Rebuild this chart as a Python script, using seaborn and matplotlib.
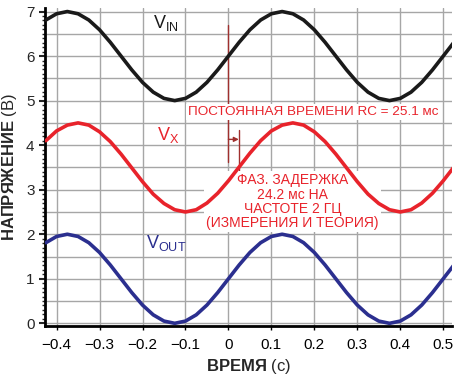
import matplotlib
matplotlib.use('Agg')
import matplotlib.pyplot as plt
import seaborn as sns
from matplotlib.ticker import MultipleLocator

# значения (шаг 25 мс)
t = [-0.425, -0.400, -0.375, -0.350, -0.325, -0.300, -0.275, -0.250, -0.225, -0.200,
     -0.175, -0.150, -0.125, -0.100, -0.075, -0.050, -0.025, 0.000, 0.025, 0.050,
     0.075, 0.100, 0.125, 0.150, 0.175, 0.200, 0.225, 0.250, 0.275, 0.300,
     0.325, 0.350, 0.375, 0.400, 0.425, 0.450, 0.475, 0.500, 0.525]

v_in = [6.81, 6.95, 7.00, 6.95, 6.81, 6.59, 6.31, 6.00, 5.69, 5.41,
        5.19, 5.05, 5.00, 5.05, 5.19, 5.41, 5.69, 6.00, 6.31, 6.59,
        6.81, 6.95, 7.00, 6.95, 6.81, 6.59, 6.31, 6.00, 5.69, 5.41,
        5.19, 5.05, 5.00, 5.05, 5.19, 5.41, 5.69, 6.00, 6.31]

v_x = [4.10, 4.32, 4.45, 4.50, 4.45, 4.30, 4.08, 3.80, 3.49, 3.18,
       2.90, 2.69, 2.55, 2.50, 2.55, 2.70, 2.92, 3.20, 3.51, 3.82,
       4.10, 4.32, 4.45, 4.50, 4.45, 4.30, 4.08, 3.80, 3.49, 3.18,
       2.90, 2.69, 2.55, 2.50, 2.55, 2.70, 2.92, 3.20, 3.51]

v_out = [1.81, 1.95, 2.00, 1.95, 1.81, 1.59, 1.31, 1.00, 0.69, 0.41,
         0.19, 0.05, 0.00, 0.05, 0.19, 0.41, 0.69, 1.00, 1.31, 1.59,
         1.81, 1.95, 2.00, 1.95, 1.81, 1.59, 1.31, 1.00, 0.69, 0.41,
         0.19, 0.05, 0.00, 0.05, 0.19, 0.41, 0.69, 1.00, 1.31]

delay = 0.0242  # фазовая задержка, с

sns.set_style('ticks')
plt.rcParams['font.family'] = ['Liberation Sans', 'DejaVu Sans']
plt.rcParams['mathtext.fontset'] = 'custom'
plt.rcParams['mathtext.rm'] = 'Liberation Sans'
plt.rcParams['mathtext.bf'] = 'Liberation Sans:bold'
plt.rcParams['axes.unicode_minus'] = True

BLACK = '#1a1a1a'
RED = '#e8232b'
BLUE = '#2b2f8f'
DARKRED = '#a0302e'
GRID = '#a6a6a6'

fig = plt.figure(figsize=(4.61, 3.78), dpi=100)
ax = fig.add_axes([0.0976, 0.1376, 0.882, 0.8413])

sns.lineplot(x=t, y=v_in, ax=ax, color=BLACK, linewidth=2.6, zorder=3)
sns.lineplot(x=t, y=v_x, ax=ax, color=RED, linewidth=2.6, zorder=3)
sns.lineplot(x=t, y=v_out, ax=ax, color=BLUE, linewidth=2.6, zorder=3)

ax.set_xlim(-0.427, 0.5195)
ax.set_ylim(-0.06, 7.08)

ax.yaxis.set_major_locator(MultipleLocator(1))
ax.yaxis.set_minor_locator(MultipleLocator(0.1))
ax.set_xticks([-0.4, -0.3, -0.2, -0.1, 0, 0.1, 0.2, 0.3, 0.4, 0.5])
ax.set_xticklabels(['\u22120.4', '\u22120.3', '\u22120.2', '\u22120.1', '0',
                    '0.1', '0.2', '0.3', '0.4', '0.5'])

ax.grid(axis='x', color=GRID, linewidth=1, zorder=0)
for yy in [0.5 * i for i in range(15)]:
    ax.axhline(yy, color=GRID, linewidth=1, zorder=0)

for s in ['top', 'right']:
    ax.spines[s].set_visible(False)
for s in ['left', 'bottom']:
    ax.spines[s].set_linewidth(2)
    ax.spines[s].set_color('black')

ax.tick_params(axis='x', which='major', length=3, width=1, pad=6, labelsize=11, colors='black')
ax.tick_params(axis='y', which='major', length=4.5, width=1.5, pad=3, labelsize=11)
ax.tick_params(axis='y', which='minor', length=2.5, width=1)

ax.set_xlabel(r'$\mathbf{ВРЕМЯ}$ (с)', fontsize=12, labelpad=3)
ax.set_ylabel(r'$\mathbf{НАПРЯЖЕНИЕ}$ (В)', fontsize=12, labelpad=5)

# подписи кривых
ax.text(-0.176, 6.64, r'V$_{\mathrm{IN}}$', fontsize=13, color=BLACK, ha='left', va='baseline', zorder=5)
ax.text(-0.167, 4.12, r'V$_{\mathrm{X}}$', fontsize=13, color=RED, ha='left', va='baseline', zorder=5)
ax.text(-0.191, 1.685, r'V$_{\mathrm{OUT}}$', fontsize=13, color=BLUE, ha='left', va='baseline', zorder=5)

# метки задержки
ax.plot([0, 0], [3.63, 6.69], color=DARKRED, linewidth=1, zorder=1.5)
ax.plot([delay, delay], [3.3, 4.34], color=DARKRED, linewidth=1, zorder=1.5)
ax.annotate('', xy=(delay, 4.13), xytext=(0, 4.13),
            arrowprops=dict(arrowstyle='-|>', color=DARKRED, lw=1, mutation_scale=7,
                            shrinkA=0, shrinkB=0), zorder=1.5)

# подложка текста закрывает сетку, но не кривые
box = dict(facecolor='white', edgecolor='none', pad=1.5)
ax.text(-0.095, 4.737, 'ПОСТОЯННАЯ ВРЕМЕНИ RC = 25.1 мс', fontsize=9.7, color=RED,
        ha='left', va='center', bbox=box, zorder=2)
ax.text(0.149, 2.73, 'ФАЗ. ЗАДЕРЖКА\n24.2 мс НА\nЧАСТОТЕ 2 ГЦ\n(ИЗМЕРЕНИЯ И ТЕОРИЯ)',
        fontsize=10, color=RED, ha='center', va='center', linespacing=1.03,
        multialignment='center', bbox=box, zorder=2)

fig.savefig('out.png', dpi=100)
